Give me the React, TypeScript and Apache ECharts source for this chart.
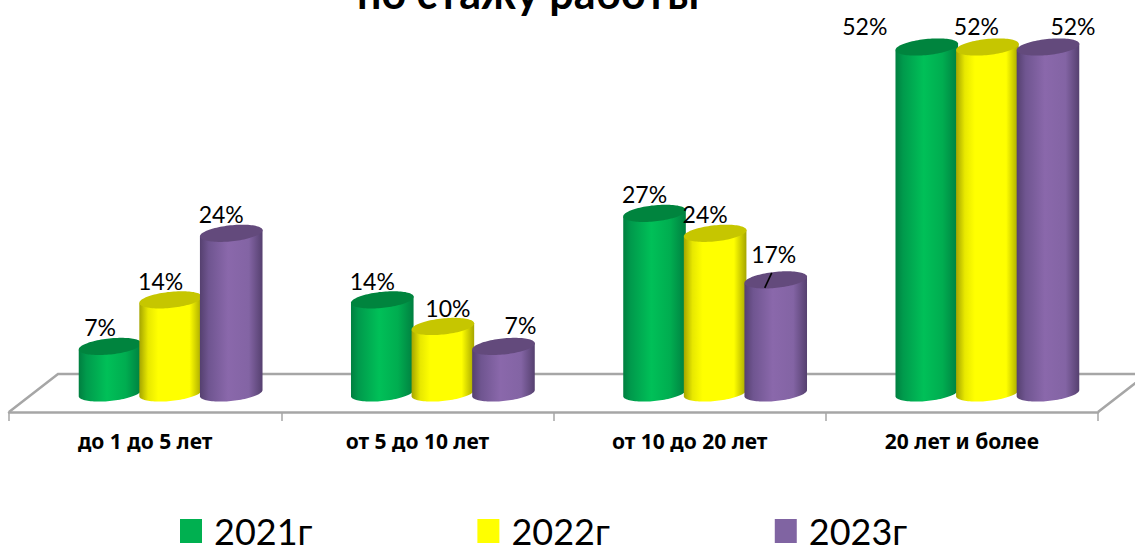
import React, { useEffect, useRef } from "react";
import * as echarts from "echarts";

const categories = ["до 1 до 5 лет", "от 5 до 10 лет", "от 10 до 20 лет", "20 лет и более"];
const seriesNames = ["2021г", "2022г", "2023г"];
const values2021 = [7, 14, 27, 52];
const values2022 = [14, 10, 24, 52];
const values2023 = [24, 7, 17, 52];
const seriesValues = [values2021, values2022, values2023];

// Hand-placed label offsets from the cylinder top (dx, dy), as in the reference.
const nudges2021 = [[-10, -19], [-10, -19], [-10, -19], [-62, -21]];
const nudges2022 = [[-10, -19], [5, -18], [-10, -19], [-11, -21]];
const nudges2023 = [[-10, -19], [17, -21], [-2, -26], [25, -21]];
const nudges = [nudges2021, nudges2022, nudges2023];

const FONT = "Lato, 'Noto Sans', sans-serif";
const stops = (list: [number, string][]) => list.map(([offset, color]) => ({ offset, color }));
const sideGradients = [
  stops([[0, "#007f40"], [0.12, "#009a4c"], [0.45, "#00c058"], [0.75, "#00ad50"], [1, "#007f40"]]),
  stops([[0, "#a5a500"], [0.14, "#e8e800"], [0.3, "#ffff00"], [0.8, "#ffff00"], [1, "#a5a500"]]),
  stops([[0, "#55406f"], [0.14, "#6f5590"], [0.45, "#8a68ab"], [0.78, "#8364a4"], [1, "#55406f"]]),
];
const capColors = ["#00843e", "#c6c600", "#634a7c"];
const legendColors = ["#00b050", "#ffff00", "#8064a2"];
const floorColor = "#a6a6a6";

const BAR_W = 63;
const STEP = 60.6;
const TILT = (6 * Math.PI) / 180;
const RY = 8;

function ellipsePoint(cx: number, cy: number, t: number) {
  const a = BAR_W / 2;
  return [
    cx + a * Math.cos(t) * Math.cos(TILT) - RY * Math.sin(t) * Math.sin(-TILT),
    cy + a * Math.cos(t) * Math.sin(-TILT) + RY * Math.sin(t) * Math.cos(TILT),
  ];
}

function makeSeries(si: number) {
  return {
    type: "custom",
    name: seriesNames[si],
    xAxisIndex: 0,
    yAxisIndex: 0,
    itemStyle: { color: legendColors[si] },
    clip: false,
    data: seriesValues[si].map((v, i) => [i, v]),
    renderItem: (params: any, api: any) => {
      const idx = api.value(0);
      const val = api.value(1);
      const top = api.coord([idx, val]);
      const base = api.coord([idx, 0]);
      const cx = top[0] + (si - 1) * STEP;
      const N = 48;
      const t0 = Math.atan2(RY * Math.sin(-TILT), (BAR_W / 2) * Math.cos(TILT));
      const body: number[][] = [];
      for (let k = 0; k <= N; k++) {
        const t = t0 + Math.PI - (Math.PI * k) / N;
        body.push(ellipsePoint(cx, base[1], t));
      }
      const right = ellipsePoint(cx, top[1], t0);
      const left = ellipsePoint(cx, top[1], t0 + Math.PI);
      const cap: number[][] = [];
      for (let k = 0; k < N * 2; k++) {
        cap.push(ellipsePoint(cx, top[1], (Math.PI * k) / N));
      }
      const [dx, dy] = nudges[si][idx];
      const children: any[] = [
        {
          type: "polygon",
          shape: { points: [left, ...body, right] },
          style: { fill: new echarts.graphic.LinearGradient(0, 0, 1, 0, sideGradients[si] as any) },
        },
        { type: "polygon", shape: { points: cap }, style: { fill: capColors[si] } },
        {
          type: "text",
          x: cx + dx,
          y: top[1] + dy,
          style: {
            text: `${val}%`,
            fontFamily: FONT,
            fontSize: 23,
            fill: "#000",
            align: "center",
            verticalAlign: "middle",
          },
        },
      ];
      if (si === 2 && idx === 2) {
        children.push({
          type: "line",
          shape: { x1: cx - 4, y1: top[1] - 7, x2: cx - 11, y2: top[1] + 8 },
          style: { stroke: "#000", lineWidth: 1.6 },
        });
      }
      return { type: "group", children };
    },
  };
}

export default function App() {
  const ref = useRef<HTMLDivElement>(null);
  useEffect(() => {
    const chart = echarts.init(ref.current!, undefined, { renderer: "svg" });
    chart.setOption({
      animation: false,
      backgroundColor: "#fff",
      textStyle: { fontFamily: FONT },
      title: {
        text: "по стажу работы",
        left: 523,
        top: -34,
        textAlign: "center",
        textStyle: { fontFamily: FONT, fontSize: 43, fontWeight: "bold", color: "#000" },
      },
      legend: {
        left: 175,
        top: 508,
        itemWidth: 22,
        itemHeight: 24,
        itemGap: 165,
        icon: "rect",
        data: seriesNames,
        textStyle: { fontFamily: FONT, fontSize: 36, color: "#000", padding: [0, 0, 0, 7] },
      },
      grid: [
        { left: 34.5, width: 1089, top: 47, bottom: 155 },
        { left: 9, width: 1089, top: 47, bottom: 136 },
      ],
      xAxis: [
        { type: "category", gridIndex: 0, data: categories, show: false },
        {
          type: "category",
          gridIndex: 1,
          data: categories,
          axisLine: { lineStyle: { color: floorColor, width: 2.5 } },
          axisTick: { show: true, length: 9, lineStyle: { color: floorColor, width: 1.5 } },
          axisLabel: { fontFamily: "'Noto Sans', sans-serif", fontSize: 21, fontWeight: "bold", color: "#000", margin: 18 },
        },
      ],
      yAxis: [
        { type: "value", gridIndex: 0, min: 0, max: 52, show: false },
        { type: "value", gridIndex: 1, min: 0, max: 52, show: false },
      ],
      graphic: [
        {
          type: "polyline",
          shape: { points: [[9, 412], [58, 374], [1147, 374], [1098, 412]] },
          style: { stroke: floorColor, lineWidth: 2.5, fill: "none" },
        },
      ],
      series: [makeSeries(0), makeSeries(1), makeSeries(2)],
    });
    return () => chart.dispose();
  }, []);
  return <div ref={ref} style={{ position: "absolute", left: 0, top: 0, width: 1135, height: 548 }} />;
}
